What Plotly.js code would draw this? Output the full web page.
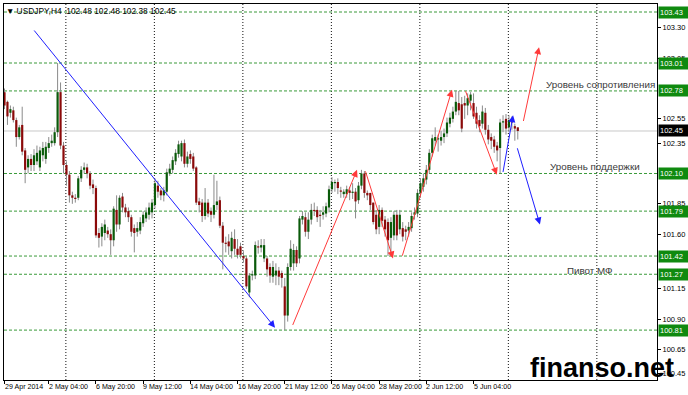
<!DOCTYPE html>
<html><head><meta charset="utf-8">
<script src="https://cdn.plot.ly/plotly-3.0.1.min.js"></script>
<style>html,body{margin:0;padding:0;background:#fff}#c{width:688px;height:395px}</style>
</head><body><div id="c"></div>
<script>
// ---- candle data (H4 bars, USDJPY) ----
const openP = [102.77,102.69,102.60,102.62,102.54,102.40,102.50,102.29,102.15,102.22,102.17,102.20,102.15,102.25,102.22,102.31,102.35,102.35,102.44,102.77,102.33,102.17,102.09,101.92,101.90,101.90,102.06,102.13,102.15,102.10,102.01,101.98,101.61,101.58,101.61,101.63,101.60,101.55,101.80,101.68,101.91,101.82,101.79,101.74,101.65,101.62,101.63,101.69,101.73,101.76,101.78,101.84,102.00,101.96,101.92,101.95,102.10,102.13,
102.20,102.26,102.24,102.35,102.18,102.26,102.24,102.15,101.87,101.86,101.75,101.86,101.79,101.76,101.84,101.88,101.67,101.53,101.54,101.46,101.56,101.48,101.50,101.42,101.40,101.12,101.26,101.26,101.50,101.49,101.40,101.40,101.33,101.25,101.26,101.30,101.28,
101.17,100.93,101.33,101.36,101.47,101.40,101.72,101.74,101.62,101.72,101.80,101.80,101.76,101.76,101.77,101.82,101.97,102.02,102.03,101.96,101.93,101.93,101.96,101.94,101.95,101.88,102.00,102.10,
101.94,101.94,101.86,101.76,
101.66,101.80,101.72,101.70,101.57,101.59,101.76,101.64,101.65,101.64,101.63,101.65,101.76,101.77,101.94,101.99,102.05,102.13,102.27,102.37,
102.38,102.37,102.40,102.43,102.51,102.55,102.61,102.68,102.67,102.68,102.66,102.70,102.68,102.60,102.54,102.51,102.60,102.46,102.40,102.38,102.33,102.31,102.52,102.55,102.48,102.54,102.49,102.48];
const highP = [102.80,102.70,102.66,102.65,102.56,102.50,102.65,102.31,102.25,102.26,102.30,102.33,102.32,102.36,102.36,102.40,102.42,102.48,103.01,102.85,102.36,102.20,102.12,101.95,101.93,102.08,102.16,102.19,102.18,102.12,102.05,102.00,101.65,101.69,101.72,101.66,101.64,101.83,101.92,101.92,101.94,101.85,101.82,101.76,101.68,101.70,101.74,101.79,101.82,101.86,101.89,102.06,102.04,101.98,101.99,102.14,102.18,102.24,
102.30,102.37,102.37,102.38,102.28,102.29,102.27,102.16,101.90,101.89,101.98,101.89,101.82,102.09,102.04,101.91,101.70,101.58,101.60,101.62,101.64,101.56,101.53,101.46,101.42,101.28,101.30,101.54,101.55,101.56,101.56,101.42,101.36,101.38,101.36,101.33,101.30,
101.24,101.36,101.55,101.52,101.50,101.75,101.79,101.78,101.78,101.85,101.86,101.83,101.80,101.83,101.86,102.00,102.07,102.05,102.06,101.99,101.97,102.00,101.99,102.02,101.98,102.03,102.13,102.12,
101.96,101.94,101.86,101.80,
101.84,101.82,101.75,101.73,101.74,101.79,101.80,101.80,101.70,101.67,101.70,101.78,101.82,101.97,102.06,102.10,102.17,102.30,102.42,102.48,
102.42,102.45,102.47,102.56,102.60,102.65,102.78,102.78,102.73,102.74,102.76,102.77,102.76,102.65,102.58,102.66,102.64,102.50,102.43,102.41,102.36,102.55,102.58,102.59,102.58,102.57,102.51,102.48];
const lowP = [102.63,102.50,102.56,102.52,102.32,102.38,102.25,102.02,102.10,102.12,102.12,102.17,102.12,102.20,102.18,102.27,102.32,102.33,102.40,102.30,102.10,102.00,101.86,101.85,101.86,101.88,102.03,102.10,102.06,101.97,101.93,101.57,101.49,101.50,101.55,101.57,101.43,101.50,101.62,101.64,101.78,101.74,101.70,101.58,101.45,101.58,101.60,101.66,101.70,101.72,101.73,101.81,101.90,101.88,101.87,101.92,102.08,102.10,
102.17,102.23,102.20,102.15,102.15,102.18,102.12,101.84,101.78,101.70,101.72,101.74,101.70,101.73,101.80,101.65,101.31,101.45,101.43,101.40,101.43,101.40,101.40,101.37,101.15,101.08,101.22,101.23,101.44,101.45,101.37,101.25,101.20,101.20,101.18,101.18,101.16,
100.81,100.88,101.30,101.30,101.33,101.36,101.68,101.58,101.56,101.68,101.75,101.70,101.66,101.72,101.74,101.78,101.94,101.95,101.93,101.90,101.90,101.90,101.88,101.89,101.73,101.85,101.97,101.90,
101.88,101.80,101.68,101.60,
101.60,101.66,101.58,101.42,101.42,101.55,101.55,101.60,101.54,101.55,101.58,101.62,101.72,101.74,101.90,101.95,102.01,102.10,102.24,102.33,
102.28,102.33,102.35,102.40,102.48,102.52,102.58,102.58,102.44,102.55,102.58,102.62,102.55,102.47,102.44,102.47,102.42,102.34,102.30,102.27,102.20,102.10,102.44,102.42,102.44,102.46,102.37,102.38];
const closeP = [102.66,102.57,102.63,102.54,102.40,102.48,102.28,102.13,102.22,102.17,102.25,102.27,102.29,102.31,102.32,102.35,102.37,102.44,102.77,102.33,102.17,102.09,101.92,101.90,101.89,102.06,102.13,102.15,102.10,102.00,101.98,101.59,101.57,101.66,101.68,101.60,101.55,101.81,101.68,101.90,101.82,101.78,101.74,101.62,101.61,101.65,101.70,101.76,101.78,101.82,101.86,102.02,101.95,101.92,101.96,102.11,102.14,102.21,
102.27,102.34,102.35,102.18,102.24,102.22,102.14,101.86,101.84,101.75,101.86,101.77,101.76,101.84,101.87,101.67,101.53,101.52,101.50,101.57,101.48,101.43,101.43,101.40,101.17,101.26,101.27,101.51,101.49,101.51,101.51,101.31,101.26,101.33,101.30,101.25,101.24,
100.93,101.33,101.48,101.47,101.36,101.73,101.75,101.62,101.72,101.80,101.79,101.74,101.75,101.78,101.83,101.97,102.03,102.03,101.98,101.95,101.95,101.97,101.94,101.95,101.87,102.00,102.10,101.94,
101.92,101.84,101.70,101.64,
101.80,101.71,101.64,101.55,101.70,101.76,101.59,101.76,101.58,101.62,101.66,101.75,101.78,101.94,102.02,102.06,102.13,102.27,102.39,102.40,
102.39,102.40,102.43,102.52,102.56,102.61,102.69,102.62,102.47,102.66,102.72,102.75,102.57,102.51,102.49,102.61,102.46,102.38,102.37,102.32,102.29,102.52,102.53,102.47,102.54,102.52,102.47,102.45];

// ---- axes labels ----
const timeTickIdx = [0,15,31,47,63,79,95,111,127,143,159];
const timeTickText = ['29 Apr 2014','2 May 04:00','6 May 20:00','9 May 12:00','14 May 04:00','16 May 20:00','21 May 12:00','26 May 04:00','28 May 20:00','2 Jun 12:00','5 Jun 04:00'];
const gridIdx = [20.8,50.8,80.8,110.8,140.8,170.8,200.8];
const priceTicks = [103.30,103.05,102.55,102.35,101.85,101.60,101.15,100.90,100.65,100.45];
const levels = [103.43,103.01,102.78,102.10,101.79,101.42,101.27,100.81];

// ---- drawn trend arrows: [tailIdx, tailPrice, headIdx, headPrice] ----
const blueArrows = [[9.66,103.29,91.7,100.83],[168.9,102.10,172.4,102.58],[173.7,102.32,181.5,101.68]];
const redArrows = [[97.5,100.84,119.5,102.13],[122.2,102.13,131.7,101.40],[134.7,101.41,151.7,102.79],[156.1,102.79,166.9,102.09],[175.8,102.52,181.2,103.14]];

// ---- text labels ----
const levelNotes = [{t:'Уровень сопротивления', p:102.83, xr:1.0},{t:'Уровень поддержки', p:102.155, xr:0.977},{t:'Пивот МФ', p:101.30, xr:0.936}];
const symbol = 'USDJPY,H4';

const idx = openP.map((_,i)=>i);
const last = closeP[closeP.length-1];
const F = 'Liberation Sans, Arial, sans-serif';

// wicks (gray vertical segments high-low)
const wx = [], wy = [];
idx.forEach(i=>{ wx.push(i,i,null); wy.push(lowP[i], highP[i], null); });
const wicks = {type:'scatter', mode:'lines', x:wx, y:wy, line:{color:'#8a8a8a', width:1}, hoverinfo:'skip', showlegend:false};
// bodies open-close, split by direction
function bodyTrace(up, color){
  const bx = [], by = [];
  idx.forEach(i=>{
    const isUp = closeP[i] >= openP[i];
    if (isUp !== up) return;
    let lo = Math.min(openP[i], closeP[i]), hi = Math.max(openP[i], closeP[i]);
    if (hi - lo < 0.009) { const m = (hi+lo)/2; lo = m - 0.0045; hi = m + 0.0045; }
    bx.push(i,i,null); by.push(lo, hi, null);
  });
  return {type:'scatter', mode:'lines', x:bx, y:by, line:{color:color, width:2.2}, hoverinfo:'skip', showlegend:false};
}
const upBodies = bodyTrace(true, '#0a5a0a');
const downBodies = bodyTrace(false, '#8b0a0a');

const shapes = [];
gridIdx.forEach(g=>shapes.push({type:'line', xref:'x', yref:'paper', x0:g, x1:g, y0:0, y1:1, layer:'below', line:{color:'#111', width:1, dash:'1px,2px'}}));
levels.forEach(v=>shapes.push({type:'line', xref:'paper', yref:'y', x0:0, x1:1, y0:v, y1:v, layer:'below', line:{color:'#3a9a3a', width:1, dash:'3px,2px'}}));
shapes.push({type:'line', xref:'paper', yref:'y', x0:0, x1:1, y0:last, y1:last, layer:'below', line:{color:'#c8c8c8', width:1}});

const ann = [];
blueArrows.forEach(a=>ann.push({x:a[2], y:a[3], ax:a[0], ay:a[1], xref:'x', yref:'y', axref:'x', ayref:'y', text:'', showarrow:true, arrowhead:2, arrowsize:1.4, arrowwidth:1, arrowcolor:'#1f1fff', standoff:0}));
redArrows.forEach(a=>ann.push({x:a[2], y:a[3], ax:a[0], ay:a[1], xref:'x', yref:'y', axref:'x', ayref:'y', text:'', showarrow:true, arrowhead:2, arrowsize:1.4, arrowwidth:1, arrowcolor:'#ff3a3a', standoff:0}));
levelNotes.forEach(n=>ann.push({x:n.xr, y:n.p, xref:'paper', yref:'y', xanchor:'right', yanchor:'middle', text:n.t, showarrow:false, font:{family:F, size:9.8, color:'#3a3a3a'}}));
levels.forEach(v=>ann.push({x:1, y:v, xref:'paper', yref:'y', xanchor:'left', yanchor:'middle', xshift:1, text:v.toFixed(2), showarrow:false, bgcolor:'#0f8a0f', width:27, height:9, borderpad:1, align:'left', font:{family:F, size:7.5, color:'#ffffff'}}));
ann.push({x:1, y:last, xref:'paper', yref:'y', xanchor:'left', yanchor:'middle', xshift:1, text:last.toFixed(2), showarrow:false, bgcolor:'#000000', width:27, height:9, borderpad:1, align:'left', font:{family:F, size:7.5, color:'#ffffff'}});
// date labels left-aligned at their ticks
timeTickIdx.forEach((t,i)=>ann.push({x:t, y:0, xref:'x', yref:'paper', xanchor:'left', yanchor:'top', yshift:-1, xshift:-2, text:timeTickText[i], showarrow:false, font:{family:F, size:7.1, color:'#000'}}));
ann.push({x:0, y:1, xref:'paper', yref:'paper', xanchor:'left', yanchor:'top', xshift:0, yshift:0, showarrow:false,
  text:'▼ '+symbol+'  '+[openP[openP.length-1],highP[highP.length-1],lowP[lowP.length-1],last].map(v=>v.toFixed(2)).join(' '),
  font:{family:F, size:8.4, color:'#000'}});
ann.push({x:0.916, y:0.033, xref:'paper', yref:'paper', xanchor:'center', yanchor:'middle', showarrow:false, text:'<b>finanso.net</b>', font:{family:F, size:27, color:'#000'}});

const layout = {
  width:688, height:395, margin:{l:4, r:31, t:4, b:15},
  paper_bgcolor:'#fff', plot_bgcolor:'#fff', showlegend:false,
  xaxis:{type:'linear', range:[-0.17,221.19], showgrid:false, zeroline:false,
    tickvals:timeTickIdx, showticklabels:false, ticks:'outside', ticklen:3, tickcolor:'#000',
    showline:true, mirror:true, linecolor:'#000', linewidth:1, fixedrange:true},
  yaxis:{side:'right', range:[100.399,103.496], showgrid:false, zeroline:false,
    tickvals:priceTicks, ticktext:priceTicks.map(v=>v.toFixed(2)), ticks:'outside', ticklen:3, tickcolor:'#000',
    tickfont:{family:F, size:7.5, color:'#000'}, showline:true, mirror:true, linecolor:'#000', linewidth:1, fixedrange:true},
  shapes:shapes, annotations:ann
};
Plotly.newPlot('c',[wicks, upBodies, downBodies],layout,{staticPlot:true, displayModeBar:false});
</script></body></html>
